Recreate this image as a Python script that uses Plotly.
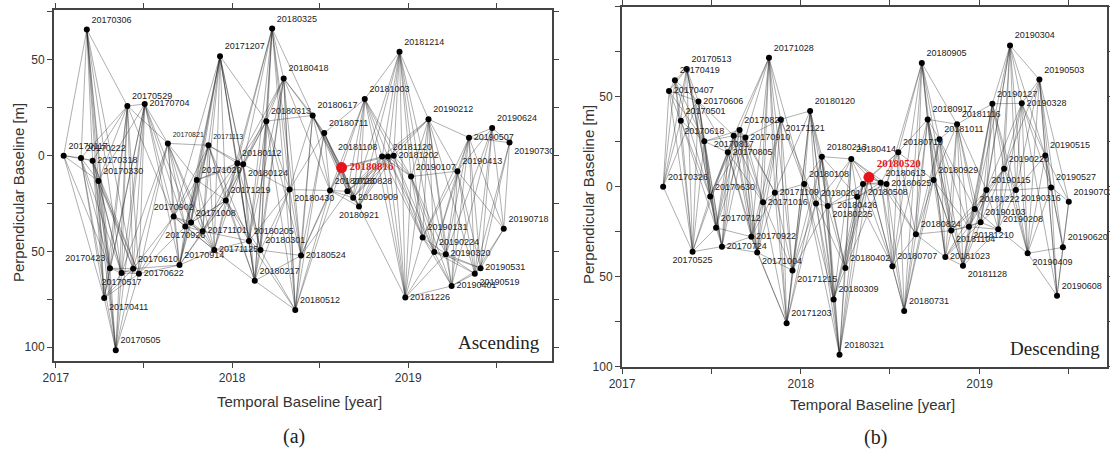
import plotly.graph_objects as go
import pandas as pd

# ---------------- data: Ascending (a) ----------------
asc_dates = ["20170117","20170222","20170306","20170318","20170330","20170411","20170423","20170505",
             "20170517","20170529","20170610","20170622","20170704","20170821","20170902","20170914",
             "20170926","20171008","20171020","20171101","20171113","20171125","20171207","20171219",
             "20180112","20180124","20180205","20180217","20180301","20180313","20180325","20180418",
             "20180430","20180512","20180524","20180617","20180711","20180723","20180816","20180828",
             "20180909","20180921","20181003","20181108","20181120","20181202","20181214","20181226",
             "20190107","20190131","20190212","20190224","20190320","20190401","20190413","20190507",
             "20190519","20190531","20190624","20190718","20190730"]
asc_bperp = [0.0, 1.2, -65.8, 2.6, 13.2, 74.3, 58.7, 101.5,
             61.3, -25.9, 59.0, 61.6, -26.9, -6.4, 31.8, 57.1,
             37.0, 34.9, 12.7, 39.4, -5.4, 49.2, -51.9, 23.4,
             4.0, 4.5, 44.5, 65.3, 49.3, -18.0, -66.3, -40.3,
             17.7, 80.5, 52.1, -21.0, -11.8, 18.2, 6.2, 18.6,
             22.0, 26.5, -29.5, 0.5, 0.5, 0.0, -54.2, 74.0,
             10.9, 42.7, -19.0, 50.3, 51.4, 68.0, 8.1, -9.4,
             61.6, 58.7, -14.4, 38.2, -6.8]
asc_master = "20180816"

# ---------------- data: Descending (b) ----------------
dsc_dates = ["20170326","20170407","20170419","20170501","20170513","20170525","20170606","20170618",
             "20170630","20170712","20170724","20170805","20170817","20170829","20170910","20170922",
             "20171004","20171016","20171028","20171109","20171121","20171203","20171215","20180108",
             "20180120","20180201","20180213","20180225","20180309","20180321","20180402","20180414",
             "20180426","20180508","20180520","20180613","20180625","20180707","20180719","20180731",
             "20180824","20180905","20180917","20180929","20181011","20181023","20181104","20181116",
             "20181128","20181210","20181222","20190103","20190115","20190127","20190208","20190220",
             "20190304","20190316","20190328","20190409","20190503","20190515","20190527","20190608",
             "20190620","20190702"]
dsc_bperp = [0.0, -53.2, -59.1, -36.7, -65.4, 36.1, -47.4, -25.2,
             5.5, 22.8, 33.3, -19.1, -28.3, -31.5, -27.4, 27.8,
             36.5, 8.7, -71.7, 3.3, -37.4, 75.9, 46.5, -1.5,
             -42.1, 9.3, -16.7, 10.7, 62.6, 93.3, 45.2, -15.4,
             5.6, -1.5, -5.2, -2.2, -1.5, 44.2, -19.1, 69.0,
             26.4, -68.7, -37.4, -3.7, -26.3, 39.1, 24.4, -34.7,
             43.9, 22.2, 12.4, 19.8, 1.8, -46.1, 23.7, -10.0,
             -78.5, 1.8, -46.3, 37.0, -59.5, -17.4, 0.4, 60.6,
             33.7, 8.3]
dsc_master = "20180520"

# maximum temporal baseline used to form interferometric pairs (days)
asc_max_days = 100
dsc_max_days = 80

# axis ticks
x_tickvals = ["2017-01-01", "2017-07-02", "2018-01-01", "2018-07-02", "2019-01-01", "2019-07-02"]
x_ticktext = ["2017", "", "2018", "", "2019", ""]
asc_y_tickvals = [-75, -50, -25, 0, 25, 50, 75, 100]
asc_y_ticktext = ["", "50", "", "0", "", "50", "", "100"]
dsc_y_tickvals = [-100, -75, -50, -25, 0, 25, 50, 75, 100]
dsc_y_ticktext = ["100", "", "50", "", "0", "", "50", "", "100"]

# ---------------- label placement (style) ----------------
asc_pos = {"20170318": "middle right", "20170704": "middle right", "20170423": "top left",
           "20170517": "bottom center", "20170622": "middle right", "20170411": "bottom right",
           "20170902": "top center", "20170926": "bottom center", "20171101": "middle right",
           "20171125": "middle right", "20180124": "bottom right", "20180430": "bottom right",
           "20180816": "middle right", "20180909": "middle right", "20180921": "bottom center",
           "20181108": "top left", "20181202": "middle right", "20190320": "middle right",
           "20190531": "middle right", "20190519": "bottom right", "20190401": "middle right",
           "20181226": "middle right", "20190507": "middle right", "20190730": "bottom right",
           "20180524": "middle right"}
dsc_pos = {"20170407": "middle right", "20170525": "bottom center", "20170606": "middle right",
           "20170618": "top center", "20170724": "middle right", "20170805": "middle right",
           "20170817": "bottom center", "20170910": "middle right", "20170922": "middle right",
           "20171004": "bottom right", "20171016": "middle right", "20171109": "middle right",
           "20171121": "bottom right", "20171215": "bottom right", "20180225": "bottom right",
           "20180426": "bottom center", "20180508": "bottom right", "20180625": "middle right",
           "20181023": "middle right", "20181104": "bottom right", "20181128": "bottom right",
           "20181210": "bottom right", "20190316": "bottom right", "20190328": "middle right",
           "20190409": "bottom right"}
small_labels = {"20170821", "20171113"}

W, H = 1110, 450
fig = go.Figure()


def add_panel(dates, bperp, master, max_days, pos, xa, ya):
    dt = pd.to_datetime(dates, format="%Y%m%d")
    ex, ey = [], []
    n = len(dates)
    for i in range(n):
        for j in range(i + 1, n):
            if (dt[j] - dt[i]).days <= max_days:
                ex += [dt[i], dt[j], None]
                ey += [bperp[i], bperp[j], None]
    fig.add_trace(go.Scatter(x=ex, y=ey, mode="lines", xaxis=xa, yaxis=ya,
                             line=dict(color="rgba(30,30,30,0.6)", width=0.6),
                             hoverinfo="skip"))
    idx = [k for k in range(n) if dates[k] != master]
    for sz, grp in ((9, [k for k in idx if dates[k] not in small_labels]),
                    (7, [k for k in idx if dates[k] in small_labels])):
        if not grp:
            continue
        fig.add_trace(go.Scatter(
            x=[dt[k] for k in grp], y=[bperp[k] for k in grp],
            mode="markers+text", xaxis=xa, yaxis=ya, cliponaxis=False,
            text=[dates[k] for k in grp],
            textposition=[pos.get(dates[k], "top right") for k in grp],
            textfont=dict(family="Arial, Liberation Sans", size=sz, color="#222"),
            marker=dict(color="black", size=6)))
    m = dates.index(master)
    fig.add_trace(go.Scatter(
        x=[dt[m]], y=[bperp[m]], mode="markers+text", xaxis=xa, yaxis=ya, cliponaxis=False,
        text=["<b>" + master + "</b>"],
        textposition=pos.get(master, "top right"),
        textfont=dict(family="Liberation Serif, Times New Roman", size=11, color="#e8141c"),
        marker=dict(color="#e8141c", size=11)))


add_panel(asc_dates, asc_bperp, asc_master, asc_max_days, asc_pos, "x", "y")
add_panel(dsc_dates, dsc_bperp, dsc_master, dsc_max_days, dsc_pos, "x2", "y2")

tickfont = dict(family="Arial, Liberation Sans", size=12, color="#333")
axis_common = dict(showline=True, mirror="ticks", linecolor="#444", linewidth=2,
                   ticks="outside", ticklen=5, tickcolor="#444", showgrid=False,
                   zeroline=False, tickfont=tickfont, automargin=False)

fig.update_layout(
    template="none",
    width=W, height=H, margin=dict(l=0, r=0, t=0, b=0, pad=0),
    paper_bgcolor="white", plot_bgcolor="white", showlegend=False,
    xaxis=dict(domain=[54 / W, 552 / W], type="date", range=["2016-12-28", "2019-10-26"],
               tickvals=x_tickvals, ticktext=x_ticktext, anchor="y", **axis_common),
    yaxis=dict(domain=[1 - 360.7 / H, 1 - 10 / H], range=[107, -76],
               tickvals=asc_y_tickvals, ticktext=asc_y_ticktext, anchor="x", **axis_common),
    xaxis2=dict(domain=[622 / W, 1107 / W], type="date", range=["2017-01-01", "2019-09-18"],
                tickvals=x_tickvals, ticktext=x_ticktext, anchor="y2", **axis_common),
    yaxis2=dict(domain=[1 - 366.7 / H, 1 - 6.7 / H], range=[100, -100],
                tickvals=dsc_y_tickvals, ticktext=dsc_y_ticktext, anchor="x2", **axis_common),
)

title_font = dict(family="Arial, Liberation Sans", size=15, color="#333")
serif = "Liberation Serif, Times New Roman"
ann = [
    dict(text="Perpendicular Baseline [m]", x=18 / W, y=1 - 193 / H, textangle=-90, font=title_font),
    dict(text="Perpendicular Baseline [m]", x=588 / W, y=1 - 195 / H, textangle=-90, font=title_font),
    dict(text="Temporal Baseline [year]", x=299 / W, y=1 - 401 / H, font=title_font),
    dict(text="Temporal Baseline [year]", x=872 / W, y=1 - 404 / H, font=title_font),
    dict(text="(a)", x=294 / W, y=1 - 436 / H, font=dict(family=serif, size=20, color="#222")),
    dict(text="(b)", x=875 / W, y=1 - 437 / H, font=dict(family=serif, size=20, color="#222")),
    dict(text="Ascending", x=542 / W, y=1 - 342 / H, xanchor="right",
         font=dict(family=serif, size=19, color="#222")),
    dict(text="Descending", x=1102 / W, y=1 - 348 / H, xanchor="right",
         font=dict(family=serif, size=19, color="#222")),
]
for a in ann:
    a.setdefault("xanchor", "center")
    fig.add_annotation(xref="paper", yref="paper", showarrow=False, yanchor="middle", **a)

# remove the browser's default page margin so the figure fills the window exactly
fig.write_html("out.html", config={"displayModeBar": False},
               post_script="document.body.style.margin='0';document.body.style.overflow='hidden';")
